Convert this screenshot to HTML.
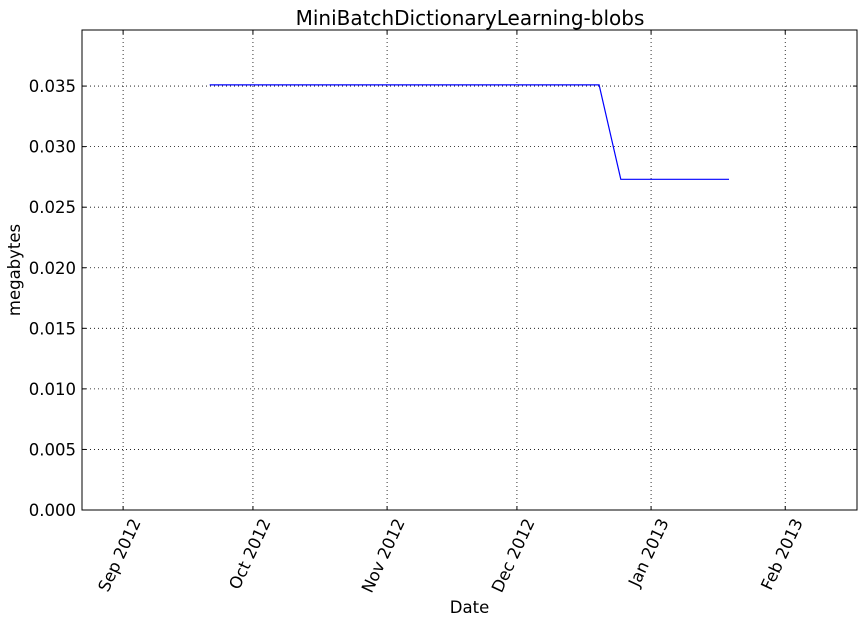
<!DOCTYPE html>
<html><head><meta charset="utf-8"><style>
body{margin:0;background:#fff;width:868px;height:623px;overflow:hidden;font-family:"DejaVu Sans","Liberation Sans",sans-serif}
svg text{font-family:"DejaVu Sans","Liberation Sans",sans-serif;fill:#000}
</style></head><body>
<svg id="chart" width="868" height="623"></svg>
<script>
const dates=["2012-09-21","2012-12-20","2012-12-25","2013-01-19"];
const values=[0.0351,0.0351,0.0273,0.0273];
const yTicks=[0,0.005,0.01,0.015,0.02,0.025,0.03,0.035];
const yTickLabels=["0.000","0.005","0.010","0.015","0.020","0.025","0.030","0.035"];
const xTickDates=["2012-09-01","2012-10-01","2012-11-01","2012-12-01","2013-01-01","2013-02-01"];
const xTickLabels=["Sep 2012","Oct 2012","Nov 2012","Dec 2012","Jan 2013","Feb 2013"];

const L=82,R=857,T=30,B=510;
const d0=Date.UTC(2012,7,22,12);const d1=Date.UTC(2013,1,17,14);
const ymin=0,ymax=0.03963;
function day(s){const p=s.split('-');return Date.UTC(+p[0],+p[1]-1,+p[2]);}
function xs(s){return L+(day(s)-d0)/(d1-d0)*(R-L);}
function ys(v){return B-(v-ymin)/(ymax-ymin)*(B-T);}
const svg=document.getElementById('chart');const NS='http://www.w3.org/2000/svg';
function el(t,a,txt){const e=document.createElementNS(NS,t);for(const k in a)e.setAttribute(k,a[k]);if(txt!==undefined)e.textContent=txt;svg.appendChild(e);return e;}
yTicks.forEach((v,i)=>{const y=ys(v);
 const g=el('line',{x1:L,x2:R,y1:y,y2:y,stroke:'#000','stroke-width':0.8,'stroke-dasharray':'1,3'});
 
 el('line',{x1:L,x2:L+4,y1:y,y2:y,stroke:'#000'});el('line',{x1:R-4,x2:R,y1:y,y2:y,stroke:'#000'});
 const t=el('text',{x:L-6,y:y+6,'text-anchor':'end','font-size':16.5},yTickLabels[i]);
 
});
xTickDates.forEach((d,i)=>{const x=xs(d);
 const g=el('line',{x1:x,x2:x,y1:T,y2:B,stroke:'#000','stroke-width':0.8,'stroke-dasharray':'1,3'});
 
 el('line',{x1:x,x2:x,y1:B-4,y2:B,stroke:'#000'});el('line',{x1:x,x2:x,y1:T,y2:T+4,stroke:'#000'});
 const ax=x+18,ay=B+12;
 const t=el('text',{x:ax,y:ay,'text-anchor':'end','font-size':16.5,transform:`rotate(-65 ${ax} ${ay})`},xTickLabels[i]);
 
});
const pts=dates.map((d,i)=>xs(d).toFixed(1)+','+ys(values[i]).toFixed(1)).join(' ');
const pl=el('polyline',{points:pts,fill:'none',stroke:'#0000ff','stroke-width':1.2});

const fr=el('rect',{x:L,y:T,width:R-L,height:B-T,fill:'none',stroke:'#000','stroke-width':1});

const ti=el('text',{x:470,y:25,'text-anchor':'middle','font-size':20},'MiniBatchDictionaryLearning-blobs');

const xl=el('text',{x:(L+R)/2,y:613,'text-anchor':'middle','font-size':16.5},'Date');

const yl=el('text',{x:20,y:270,'text-anchor':'middle','font-size':16.5,transform:'rotate(-90 20 270)'},'megabytes');

</script>
</body></html>
